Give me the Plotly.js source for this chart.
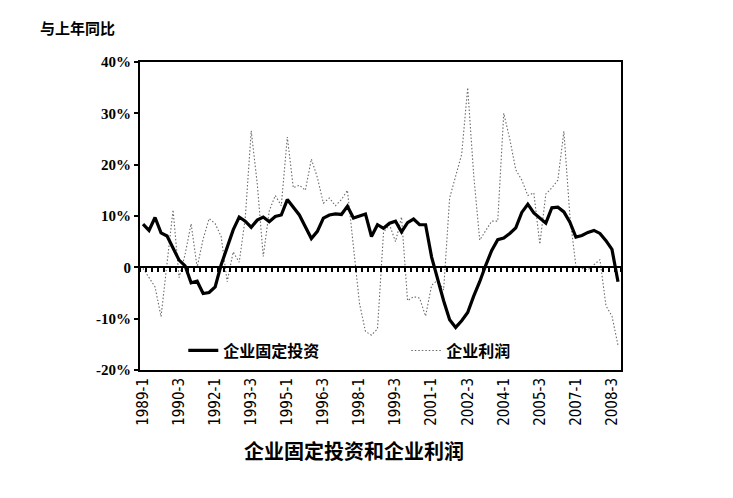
<!DOCTYPE html>
<html>
<head>
<meta charset="utf-8">
<script src="https://cdn.plot.ly/plotly-3.0.1.min.js"></script>
<style>
  html, body { margin: 0; padding: 0; background: #fff; }
  #chart { width: 733px; height: 498px; }
</style>
</head>
<body>
<div id="chart"></div>
<script>
// Quarters 1989-1 .. 2008-4
const quarters = [
  '1989-1','1989-2','1989-3','1989-4','1990-1','1990-2','1990-3','1990-4',
  '1991-1','1991-2','1991-3','1991-4','1992-1','1992-2','1992-3','1992-4',
  '1993-1','1993-2','1993-3','1993-4','1994-1','1994-2','1994-3','1994-4',
  '1995-1','1995-2','1995-3','1995-4','1996-1','1996-2','1996-3','1996-4',
  '1997-1','1997-2','1997-3','1997-4','1998-1','1998-2','1998-3','1998-4',
  '1999-1','1999-2','1999-3','1999-4','2000-1','2000-2','2000-3','2000-4',
  '2001-1','2001-2','2001-3','2001-4','2002-1','2002-2','2002-3','2002-4',
  '2003-1','2003-2','2003-3','2003-4','2004-1','2004-2','2004-3','2004-4',
  '2005-1','2005-2','2005-3','2005-4','2006-1','2006-2','2006-3','2006-4',
  '2007-1','2007-2','2007-3','2007-4','2008-1','2008-2','2008-3','2008-4'
];

// 企业固定投资 (%, year on year)
const investment = [
  8.4, 7.2, 9.7, 6.7, 6.1, 3.8, 1.4, 0.3, -3.0, -2.7, -5.1, -4.9, -3.8, 0.5, 4.0, 7.3,
  9.8, 9.0, 7.8, 9.2, 9.8, 8.9, 9.9, 10.2, 13.2, 11.7, 10.2, 7.9, 5.6, 7.0, 9.6, 10.2,
  10.4, 10.3, 11.9, 9.6, 10.0, 10.4, 6.0, 8.3, 7.6, 8.6, 9.0, 6.9, 8.7, 9.4, 8.3, 8.3,
  2.0, -2.5, -6.5, -10.2, -11.7, -10.4, -8.8, -5.6, -2.8, 0.4, 3.3, 5.4, 5.7, 6.6, 7.7, 10.7,
  12.3, 10.6, 9.5, 8.6, 11.6, 11.7, 10.8, 8.8, 5.9, 6.2, 6.8, 7.2, 6.6, 5.2, 3.5, -2.8
];

// 企业利润 (%, year on year)
const profits = [
  -0.2, -2.0, -3.8, -9.6, 1.5, 11.2, -2.0, 2.5, 8.5, 0.0, 5.5, 9.5, 8.5, 6.0, -2.8, 3.0,
  1.0, 9.5, 26.6, 16.3, 2.1, 11.0, 14.0, 12.0, 25.4, 15.5, 16.0, 15.0, 21.1, 17.5, 12.5, 13.5,
  12.0, 13.2, 15.0, 4.0, -7.0, -12.5, -13.2, -12.0, 6.8, 8.3, 5.0, 9.8, -6.5, -5.7, -6.0, -9.5,
  -3.5, -2.5, -4.4, 13.5, 17.5, 22.0, 35.0, 18.0, 5.3, 7.2, 9.0, 9.0, 30.0, 25.0, 19.0, 17.0,
  14.0, 14.5, 4.5, 14.3, 15.5, 17.0, 26.5, 10.0, 0.2, -0.2, -0.5, 0.5, 1.5, -7.5, -9.5, -15.2
];

const xTickLabels = ['1989-1','1990-3','1992-1','1993-3','1995-1','1996-3','1998-1',
                     '1999-3','2001-1','2002-3','2004-1','2005-3','2007-1','2008-3'];
const yTickVals = [-20, -10, 0, 10, 20, 30, 40];
const yTickText = ['-20%', '-10%', '0', '10%', '20%', '30%', '40%'];

const seriesNames = ['企业固定投资', '企业利润'];
const chartTitle = '企业固定投资和企业利润';
const yLabel = '与上年同比';

const cjk = '"Noto Sans CJK SC", "Noto Sans", sans-serif';

const traces = [
  {
    x: quarters, y: investment, name: seriesNames[0],
    type: 'scatter', mode: 'lines', xaxis: 'x2', yaxis: 'y',
    line: { color: '#000', width: 3.2 }
  },
  {
    x: quarters, y: profits, name: seriesNames[1],
    type: 'scatter', mode: 'lines', xaxis: 'x', yaxis: 'y',
    line: { color: '#6a6a6a', width: 1.1, dash: '1.5px,2px' }
  }
];

const layout = {
  width: 733, height: 498,
  margin: { l: 140, r: 112, t: 62, b: 128 },
  paper_bgcolor: '#fff', plot_bgcolor: '#fff',
  showlegend: true,
  title: {
    text: chartTitle,
    font: { family: cjk, size: 20, color: '#000', weight: 'bold' },
    x: 0.483, xanchor: 'center', xref: 'container',
    y: 0.092, yanchor: 'middle', yref: 'container'
  },
  legend: {
    orientation: 'h', x: 0.09, y: 0.008, xanchor: 'left', yanchor: 'bottom',
    bgcolor: 'rgba(0,0,0,0)',
    font: { family: cjk, size: 16, color: '#000', weight: 'bold' },
    entrywidth: 178, entrywidthmode: 'pixels'
  },
  xaxis: {
    type: 'category', range: [-0.5, 79.5],
    tickvals: xTickLabels, ticktext: xTickLabels,
    tickangle: -90, ticks: '',
    tickfont: { family: '"Liberation Sans Narrow", "DejaVu Sans Condensed", "Liberation Sans", sans-serif', size: 15, color: '#000' },
    showline: true, linecolor: '#000', linewidth: 2, mirror: true,
    showgrid: false, zeroline: false, fixedrange: true
  },
  xaxis2: {
    type: 'category', range: [-0.5, 79.5], overlaying: 'x',
    anchor: 'free', position: 1 / 3, side: 'bottom',
    showticklabels: false, ticks: 'outside', ticklen: 4, tickwidth: 2, tickcolor: '#000',
    dtick: 1, tickson: 'boundaries',
    showline: true, linecolor: '#000', linewidth: 2,
    showgrid: false, zeroline: false, fixedrange: true
  },
  yaxis: {
    range: [-20, 40], tickvals: yTickVals, ticktext: yTickText,
    ticks: 'outside', ticklen: 4, tickwidth: 2, tickcolor: '#000',
    tickfont: { family: '"Liberation Serif", "DejaVu Serif", serif', size: 15, color: '#000', weight: 'bold' },
    showline: true, linecolor: '#000', linewidth: 2, mirror: true,
    showgrid: false, zeroline: false, fixedrange: true
  },
  annotations: [
    {
      text: yLabel, xref: 'paper', yref: 'paper',
      x: -0.212, y: 1.07, xanchor: 'left', yanchor: 'bottom', showarrow: false,
      font: { family: cjk, size: 15, color: '#000', weight: 'bold' }
    }
  ]
};

Plotly.newPlot('chart', traces, layout, { displayModeBar: false, staticPlot: true });
</script>
</body>
</html>
